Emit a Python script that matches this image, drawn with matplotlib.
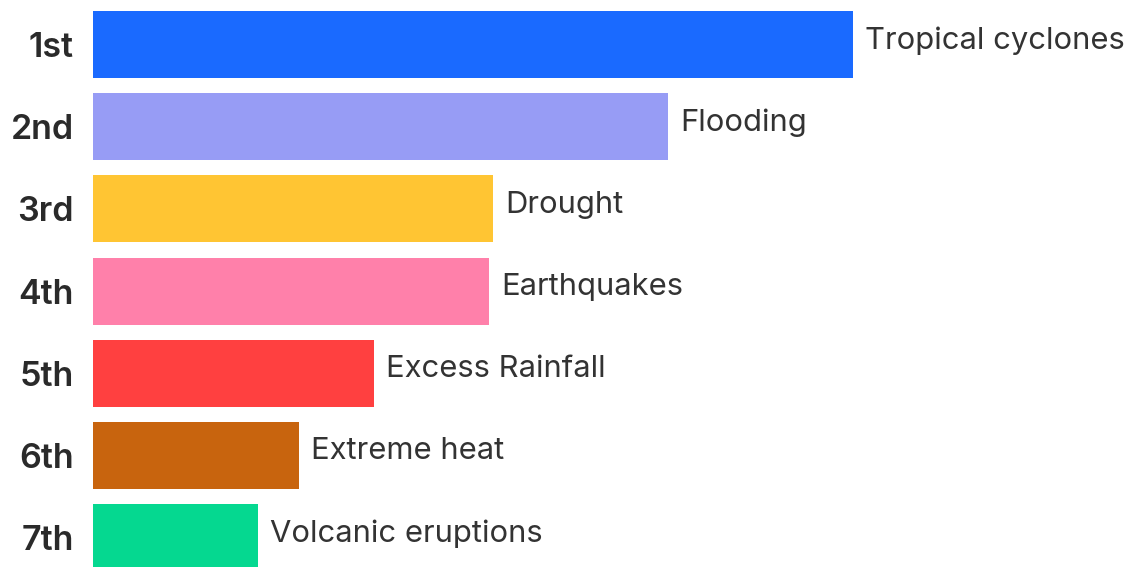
import matplotlib.pyplot as plt

# ==========================
# DATA
# ==========================

ranks = ["1st", "2nd", "3rd", "4th", "5th", "6th", "7th"]
hazards = ["Tropical cyclones", "Flooding", "Drought", "Earthquakes",
           "Excess Rainfall", "Extreme heat", "Volcanic eruptions"]
values = [760, 575, 400, 396, 281, 206, 165]
colors = ["#1a6aff", "#979cf5", "#ffc533", "#ff80aa",
          "#ff4040", "#c8640e", "#05d890"]

# ==========================
# FIGURE
# ==========================

fig = plt.figure(figsize=(11.32, 5.67), dpi=100)
ax = fig.add_axes([93 / 1132, 0, 1 - 93 / 1132, 1])

pos = list(range(len(values)))
ax.barh(pos, values, height=0.815, color=colors)

ax.set_xlim(0, 1039)
ax.set_ylim(6.356, -0.541)

for i, (v, name) in enumerate(zip(values, hazards)):
    ax.text(v + 12, i - 0.05, name, fontsize=22.3, color="#333333",
            family="Inter", va="center", ha="left")

ax.set_yticks(pos)
ax.set_yticklabels(ranks, fontsize=24.5, fontweight="semibold",
                   color="#2a2a2a", family="Inter")
ax.tick_params(axis="y", length=0, pad=14)
ax.set_xticks([])

for s in ax.spines.values():
    s.set_visible(False)

fig.savefig("out.png", dpi=100)
